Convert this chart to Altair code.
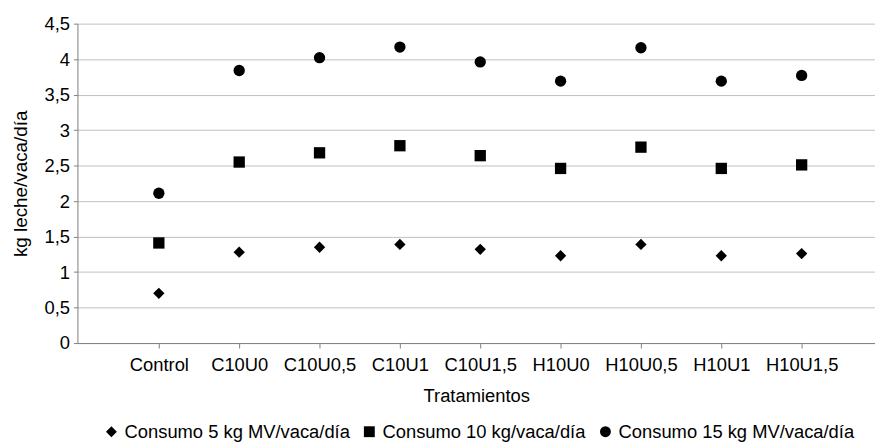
import altair as alt
import pandas as pd

categories = ["Control", "C10U0", "C10U0,5", "C10U1", "C10U1,5",
              "H10U0", "H10U0,5", "H10U1", "H10U1,5"]
series_names = ["Consumo 5 kg MV/vaca/día", "Consumo 10 kg/vaca/día",
                "Consumo 15 kg MV/vaca/día"]
consumo5 = [0.70, 1.28, 1.35, 1.39, 1.32, 1.23, 1.39, 1.23, 1.26]
consumo10 = [1.41, 2.55, 2.68, 2.78, 2.64, 2.46, 2.76, 2.46, 2.51]
consumo15 = [2.11, 3.84, 4.02, 4.17, 3.96, 3.69, 4.16, 3.69, 3.77]
y_ticks = [0, 0.5, 1, 1.5, 2, 2.5, 3, 3.5, 4, 4.5]

rows = []
for name, vals in zip(series_names, [consumo5, consumo10, consumo15]):
    for c, v in zip(categories, vals):
        rows.append({"Tratamiento": c, "Serie": name, "valor": v})
df = pd.DataFrame(rows)

FONT = "Liberation Sans"
FS = 18.5

chart = alt.Chart(df).mark_point(filled=True, opacity=1, color="black", size=130).encode(
    x=alt.X("Tratamiento:N", sort=categories,
            scale=alt.Scale(type="point", padding=0.963, align=0.526),
            axis=alt.Axis(title="Tratamientos", labelAngle=0, grid=False,
                          domainColor="#808080", tickColor="#808080", tickSize=5,
                          labelFontSize=FS, titleFontSize=FS, labelPadding=8,
                          titlePadding=12, titleFontWeight="normal",
                          labelColor="black", titleColor="black")),
    y=alt.Y("valor:Q", scale=alt.Scale(domain=[0, 4.5], nice=False),
            axis=alt.Axis(title="kg leche/vaca/día", values=y_ticks,
                          labelExpr="replace(format(datum.value, '~g'), '.', ',')",
                          gridColor="#c0c0c0", domainColor="#808080",
                          tickColor="#808080", tickSize=4, labelPadding=4,
                          labelFontSize=FS, titleFontSize=19, titleX=-47,
                          titleFontWeight="normal",
                          labelColor="black", titleColor="black")),
    shape=alt.Shape("Serie:N", sort=series_names,
                    scale=alt.Scale(domain=series_names,
                                    range=["diamond", "square", "circle"]),
                    legend=alt.Legend(title=None, orient="none", direction="horizontal",
                                      legendX=25, legendY=402, labelFontSize=FS,
                                      labelColor="black", symbolFillColor="black",
                                      symbolStrokeColor="black", symbolSize=120,
                                      labelOffset=4, columnPadding=10,
                                      labelLimit=400)),
).properties(
    width=804, height=322,
    padding={"left": 4, "top": 5, "right": 0, "bottom": 0},
).configure(
    font=FONT,
).configure_view(
    stroke=None,
)

chart.save("out.html", embed_options={"renderer": "svg", "actions": False})
